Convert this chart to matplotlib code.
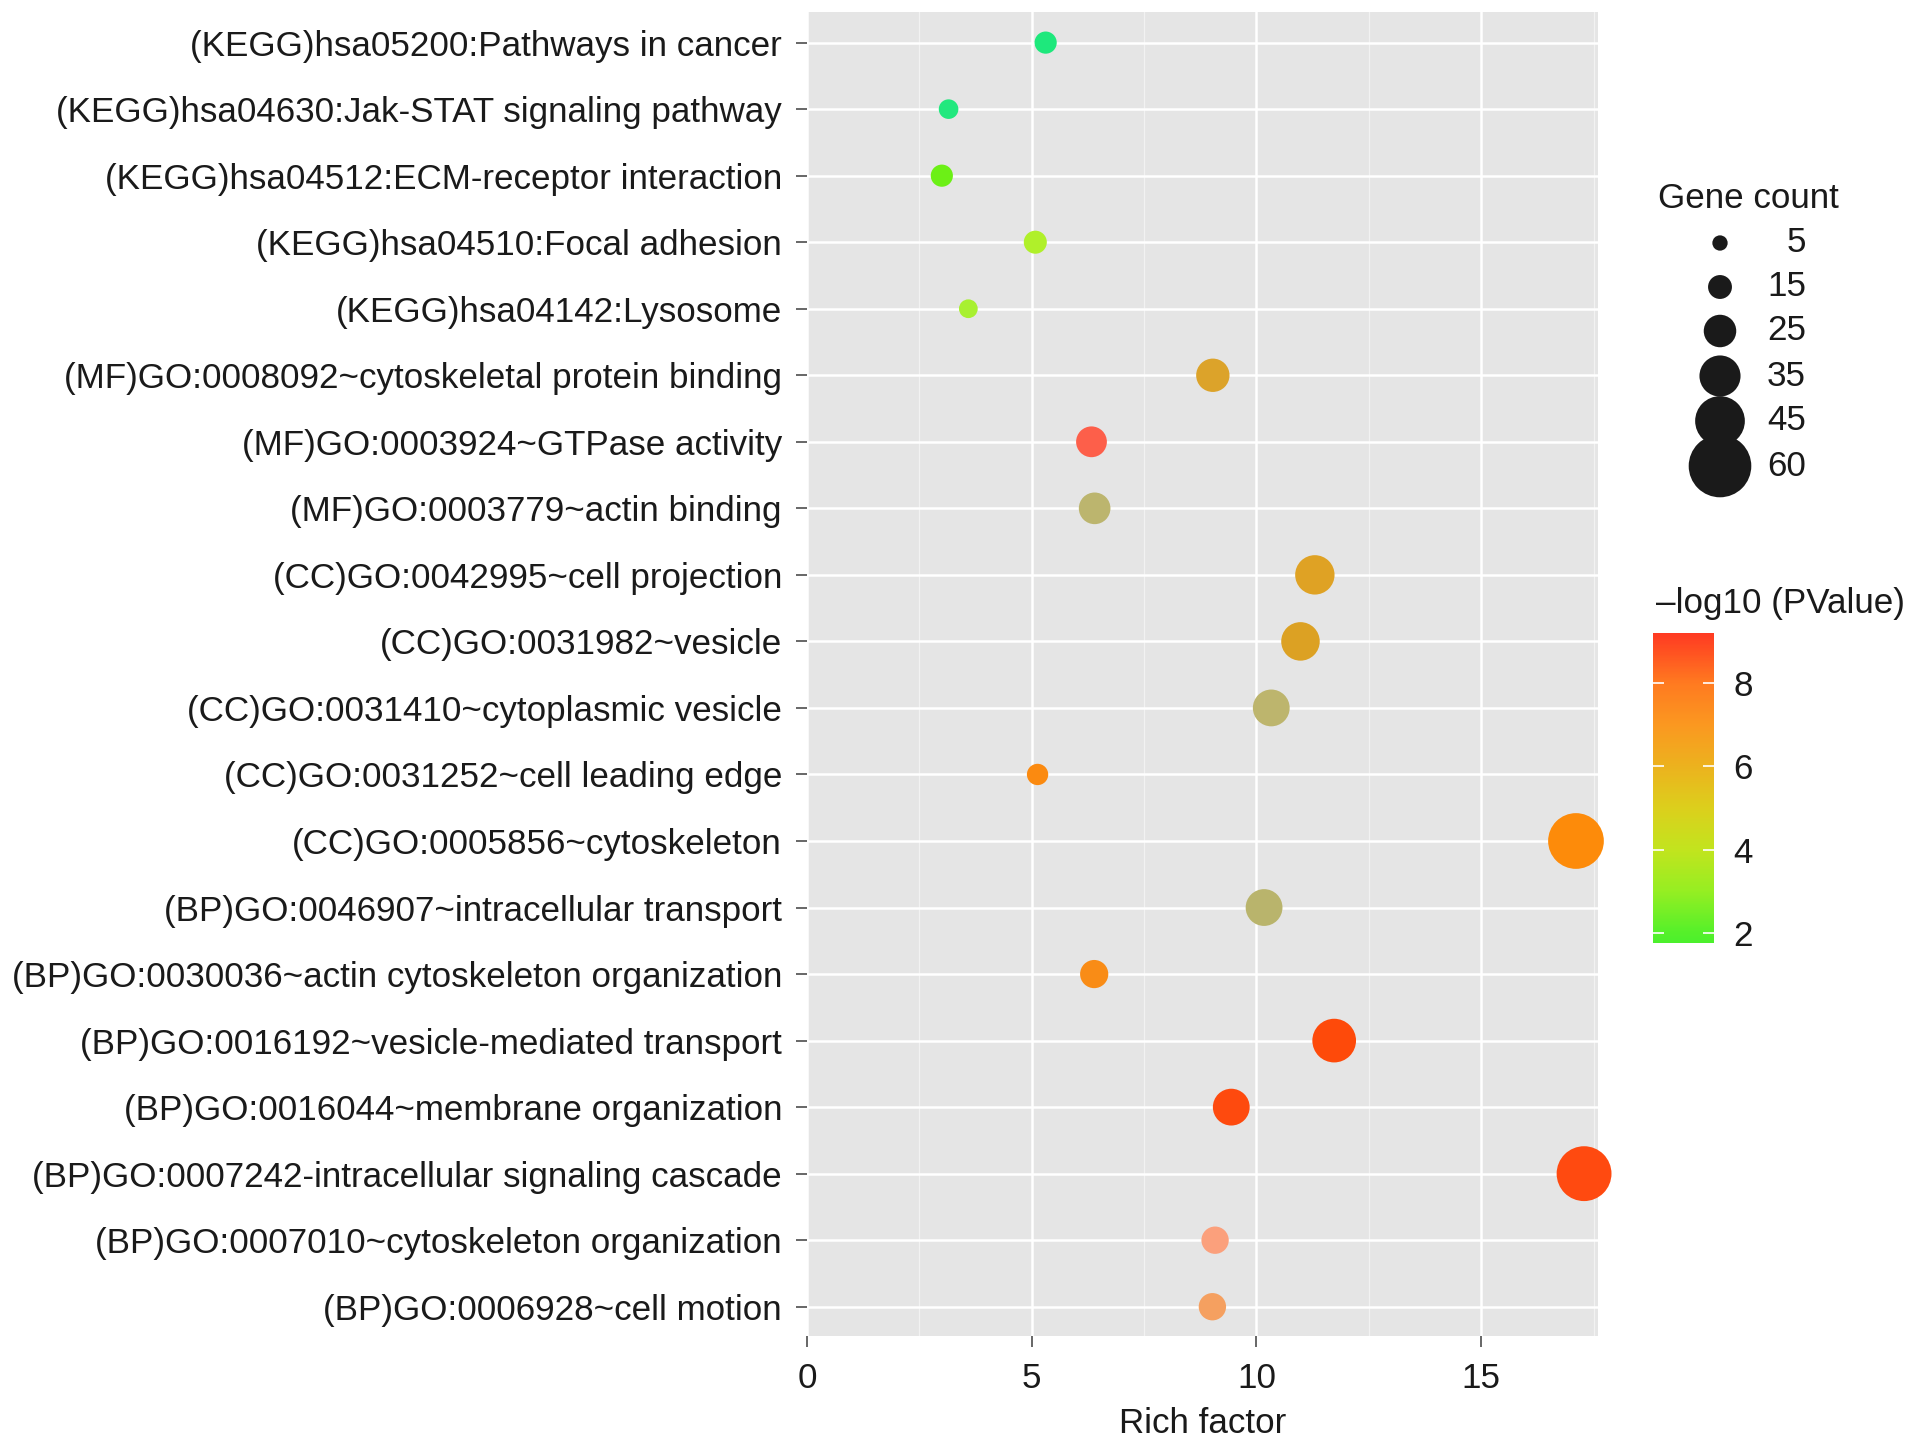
import numpy as np
import matplotlib
matplotlib.use("Agg")
import matplotlib.pyplot as plt
from matplotlib.colors import LinearSegmentedColormap, Normalize
from matplotlib.cm import ScalarMappable

plt.rcParams['font.family'] = ['Liberation Sans', 'DejaVu Sans']

# terms, top to bottom as in the figure
terms = [
    "(KEGG)hsa05200:Pathways in cancer",
    "(KEGG)hsa04630:Jak-STAT signaling pathway",
    "(KEGG)hsa04512:ECM-receptor interaction",
    "(KEGG)hsa04510:Focal adhesion",
    "(KEGG)hsa04142:Lysosome",
    "(MF)GO:0008092~cytoskeletal protein binding",
    "(MF)GO:0003924~GTPase activity",
    "(MF)GO:0003779~actin binding",
    "(CC)GO:0042995~cell projection",
    "(CC)GO:0031982~vesicle",
    "(CC)GO:0031410~cytoplasmic vesicle",
    "(CC)GO:0031252~cell leading edge",
    "(CC)GO:0005856~cytoskeleton",
    "(BP)GO:0046907~intracellular transport",
    "(BP)GO:0030036~actin cytoskeleton organization",
    "(BP)GO:0016192~vesicle-mediated transport",
    "(BP)GO:0016044~membrane organization",
    "(BP)GO:0007242-intracellular signaling cascade",
    "(BP)GO:0007010~cytoskeleton organization",
    "(BP)GO:0006928~cell motion",
]
rich_factor = [5.31, 3.15, 3.0, 5.08, 3.59, 9.03, 6.33, 6.40, 11.30, 10.98,
               10.33, 5.13, 17.11, 10.17, 6.39, 11.73, 9.44, 17.29, 9.08, 9.02]
gene_count = [13, 10, 13, 14, 9, 26, 23, 24, 33, 32,
              30, 12, 52, 30, 20, 38, 30, 51, 19, 19]
point_colors = ["#1ee87c", "#22e87e", "#6cf016", "#b0f02a", "#a8f030",
                "#dca32a", "#fd5f4a", "#bcb56e", "#dfa224", "#dca123",
                "#bdb56d", "#fb8a10", "#fd8b0a", "#b9b46c", "#f98c16",
                "#fe4a0a", "#fe4a0e", "#ff4a10", "#fba07c", "#f5a060"]

legend_counts = [5, 15, 25, 35, 45, 60]
cbar_ticks = [2, 4, 6, 8]
cbar_range = (1.76, 9.2)
cbar_colors = ["#4cf02c", "#55f02a", "#96ee22", "#c2e41e", "#dccf1c",
               "#ecb21e", "#fb9820", "#ff7a20", "#ff3a22"]
cbar_stops = [1.76, 2, 3, 4, 5, 6, 7, 8, 9.2]

FS = 25.2


def marker_area(count):
    # diameter in pixels -> area in pt^2 (dpi 100)
    d_px = 11 + 0.86 * np.asarray(count, dtype=float)
    return (d_px * 0.72) ** 2


W, H = 1913, 1443
fig = plt.figure(figsize=(W / 100, H / 100), dpi=100)

left, right, top, bottom = 807, 1598, 12, 1336
ax = fig.add_axes([left / W, 1 - bottom / H, (right - left) / W, (bottom - top) / H])
ax.set_facecolor("#e5e5e5")
for s in ax.spines.values():
    s.set_visible(False)

n = len(terms)
ypos = np.arange(n)[::-1]
ax.scatter(rich_factor, ypos, s=marker_area(gene_count), c=point_colors,
           linewidths=0, zorder=3, clip_on=False)

ax.set_xlim(0, 17.6)
ax.set_ylim(-0.44, n - 1 + 0.46)
ax.set_xticks([0, 5, 10, 15])
ax.set_xticks([2.5, 7.5, 12.5, 17.5], minor=True)
ax.set_yticks(ypos)
ax.set_yticklabels(terms)
ax.grid(which="major", color="white", linewidth=1.8, zorder=0)
ax.grid(which="minor", axis="x", color="#f2f2f2", linewidth=0.9, zorder=0)
ax.set_axisbelow(True)
ax.tick_params(axis="both", which="major", labelsize=FS, length=8,
               width=1.2, color="#4d4d4d", labelcolor="#1a1a1a")
ax.tick_params(axis="y", pad=10)
ax.tick_params(axis="x", pad=10.5)
ax.tick_params(which="minor", length=0)
ax.set_xlabel("Rich factor", fontsize=FS, color="#1a1a1a", labelpad=9)

# size legend
fig.text(1658 / W, 1 - 199 / H, "Gene count", fontsize=FS, ha="left",
         va="center", color="#1a1a1a")
leg_y = [243, 287, 331, 376, 421, 466]
for cnt, yy in zip(legend_counts, leg_y):
    fig.text(1806 / W, 1 - yy / H, str(cnt), fontsize=FS, ha="right",
             va="center", color="#1a1a1a")
lax = fig.add_axes([0, 0, 1, 1], facecolor="none")
lax.set_xlim(0, W)
lax.set_ylim(H, 0)
lax.axis("off")
lax.scatter([1720] * len(legend_counts), leg_y, s=marker_area(legend_counts),
            c="#1a1a1a", linewidths=0)

# colour bar
cmap = LinearSegmentedColormap.from_list(
    "pv", [((v - cbar_range[0]) / (cbar_range[1] - cbar_range[0]), c)
           for v, c in zip(cbar_stops, cbar_colors)])
cax = fig.add_axes([1653 / W, 1 - 943 / H, 61 / W, 310 / H])
sm = ScalarMappable(norm=Normalize(*cbar_range), cmap=cmap)
cb = fig.colorbar(sm, cax=cax, ticks=cbar_ticks)
cb.outline.set_visible(False)
cax.yaxis.set_ticks_position("both")
cax.tick_params(direction="in", length=8, width=1.2, color="white",
                labelsize=FS, labelcolor="#1a1a1a", pad=14,
                left=True, right=True, labelleft=False, labelright=True)
fig.text(1656 / W, 1 - 604 / H, "\u2013log10 (PValue)", fontsize=FS,
         ha="left", va="center", color="#1a1a1a")

fig.savefig("out.png", dpi=100)
